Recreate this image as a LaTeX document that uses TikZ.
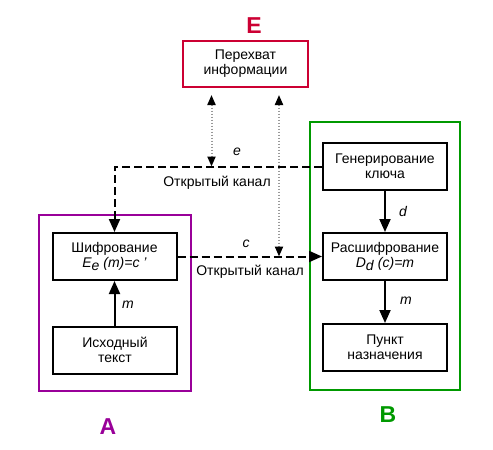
\documentclass[tikz,border=0pt]{standalone}
\usepackage{fontspec}
\setmainfont{Liberation Sans}
\usetikzlibrary{arrows.meta,positioning}
\definecolor{evered}{RGB}{204,0,51}
\definecolor{alicepurple}{RGB}{153,0,153}
\definecolor{bobgreen}{RGB}{0,153,0}

\begin{document}
\begin{tikzpicture}[x=1pt,y=-1pt,
  blockbox/.style={draw, line width=2pt, minimum width=124pt, minimum height=47pt,
    align=center, font=\fontsize{14}{15}\selectfont, inner sep=1pt},
  party/.style={font=\fontsize{23}{23}\selectfont\bfseries},
  solidarrow/.style={line width=2pt, -{Triangle[length=13pt,width=11pt]}},
  dasharrow/.style={line width=2pt, dash pattern=on 8pt off 4pt, -{Triangle[length=13pt,width=11pt]}},
  dotarrow/.style={line width=2pt, gray!80, dash pattern=on 1.5pt off 1.5pt,
    {Triangle[length=10pt,width=8pt,black]}-{Triangle[length=10pt,width=8pt,black]}},
  lbl/.style={font=\fontsize{14}{15}\selectfont},
  ilbl/.style={font=\fontsize{14}{15}\selectfont\itshape}]
\useasboundingbox (0,0) rectangle (493,450);

% Frames of the parties
\draw[alicepurple, line width=2pt] (39,215) rectangle (191,391);
\draw[bobgreen, line width=2pt] (310,122) rectangle (460,390);

% Party letters
\node[party, evered] (labE) at (254,26) {E};
\node[party, alicepurple] (labA) at (108,427) {A};
\node[party, bobgreen] (labB) at (388,415) {B};

% Blocks
\node[blockbox, draw=evered, minimum width=125pt, minimum height=46pt] (perex) at (245.5,64) {Перехват\\информации};
\node[blockbox] (shifr) at (114.5,256.5) {Шифрование\\\textit{E}\raisebox{-0.45ex}{\textit{e}} \textit{(m)=c '}};
\node[blockbox] (isxod) at (115,350) {Исходный\\текст};
\node[blockbox] (gener) at (385,166.5) {Генерирование\\ключа};
\node[blockbox] (rassh) at (385,256.5) {Расшифрование\\\textit{D}\raisebox{-0.45ex}{\textit{d}} \textit{(c)=m}};
\node[blockbox] (punkt) at (385,347.5) {Пункт\\назначения};

% Open channels
\coordinate (tapE) at (211.5,166.5);
\coordinate (tapC) at (279,256.5);
\draw[dasharrow] (gener.west) -| (shifr.north);
\draw[dasharrow] (shifr.east) -- (rassh.west);

% Interception
\draw[dotarrow, shorten <=7pt] (perex.south -| tapE) -- (tapE);
\draw[dotarrow, shorten <=7pt] (perex.south -| tapC) -- (tapC);

% Inner arrows
\draw[solidarrow] (isxod.north -| shifr.south) -- (shifr.south);
\draw[solidarrow] (gener) -- (rassh);
\draw[solidarrow] (rassh) -- (punkt);

% Labels
\node[ilbl] (le) at (237,152) {e};
\node[lbl] (ch1) at (217,183) {Открытый канал};
\node[ilbl] (lc) at (246,244) {c};
\node[lbl] (ch2) at (250,272) {Открытый канал};
\node[ilbl] (lm1) at (128,305) {m};
\node[ilbl] (ld) at (403,211) {d};
\node[ilbl] (lm2) at (406,301) {m};
\end{tikzpicture}
\end{document}
